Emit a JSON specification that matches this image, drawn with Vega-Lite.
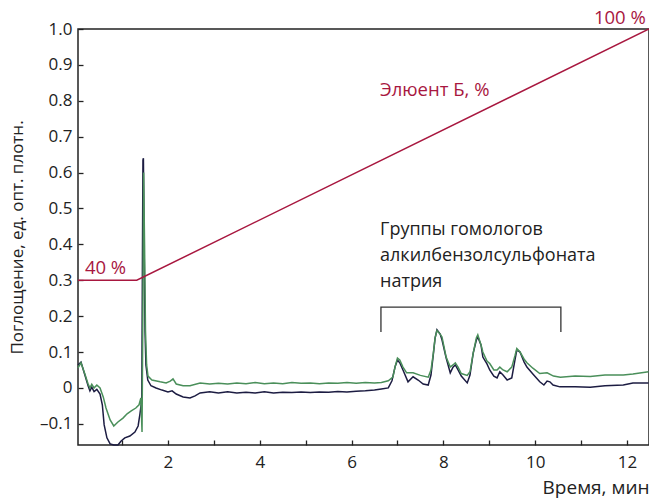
{
  "$schema": "https://vega.github.io/schema/vega-lite/v6.json",
  "width": 571,
  "height": 416,
  "autosize": {"type": "none"},
  "padding": {"left": 78, "top": 29, "right": 0, "bottom": 54},
  "background": "white",
  "config": {
    "view": {"stroke": "#222", "strokeWidth": 1.5},
    "font": "Open Sans"
  },
  "datasets": {
    "xgrid": [{"t": 1}, {"t": 2}, {"t": 3}, {"t": 4}, {"t": 5}, {"t": 6}, {"t": 7}, {"t": 8}, {"t": 9}, {"t": 10}, {"t": 11}, {"t": 12}],
    "ygrid": [{"a": -0.1}, {"a": 0}, {"a": 0.1}, {"a": 0.2}, {"a": 0.3}, {"a": 0.4}, {"a": 0.5}, {"a": 0.6}, {"a": 0.7}, {"a": 0.8}, {"a": 0.9}],
    "traces": [
      {"t": 0.04, "a": 0.064, "s": "dark"}, {"t": 0.105, "a": 0.072, "s": "dark"}, {"t": 0.19, "a": 0.036, "s": "dark"}, {"t": 0.26, "a": 0.006, "s": "dark"}, {"t": 0.3, "a": -0.008, "s": "dark"}, {"t": 0.34, "a": 0.002, "s": "dark"}, {"t": 0.39, "a": -0.01, "s": "dark"}, {"t": 0.45, "a": -0.004, "s": "dark"}, {"t": 0.52, "a": -0.017, "s": "dark"}, {"t": 0.57, "a": -0.047, "s": "dark"}, {"t": 0.61, "a": -0.103, "s": "dark"}, {"t": 0.67, "a": -0.139, "s": "dark"}, {"t": 0.74, "a": -0.156, "s": "dark"}, {"t": 0.82, "a": -0.159, "s": "dark"}, {"t": 0.91, "a": -0.159, "s": "dark"}, {"t": 0.98, "a": -0.148, "s": "dark"}, {"t": 1.06, "a": -0.139, "s": "dark"}, {"t": 1.17, "a": -0.134, "s": "dark"}, {"t": 1.28, "a": -0.123, "s": "dark"}, {"t": 1.35, "a": -0.106, "s": "dark"}, {"t": 1.39, "a": -0.072, "s": "dark"}, {"t": 1.43, "a": -0.033, "s": "dark"}, {"t": 1.445, "a": 0.384, "s": "dark"}, {"t": 1.455, "a": 0.635, "s": "dark"}, {"t": 1.465, "a": 0.64, "s": "dark"}, {"t": 1.48, "a": 0.41, "s": "dark"}, {"t": 1.5, "a": 0.16, "s": "dark"}, {"t": 1.52, "a": 0.064, "s": "dark"}, {"t": 1.56, "a": 0.022, "s": "dark"}, {"t": 1.63, "a": 0.006, "s": "dark"}, {"t": 1.74, "a": 0.0, "s": "dark"}, {"t": 1.87, "a": -0.006, "s": "dark"}, {"t": 2.0, "a": -0.011, "s": "dark"}, {"t": 2.09, "a": -0.008, "s": "dark"}, {"t": 2.18, "a": -0.017, "s": "dark"}, {"t": 2.33, "a": -0.025, "s": "dark"}, {"t": 2.48, "a": -0.028, "s": "dark"}, {"t": 2.59, "a": -0.022, "s": "dark"}, {"t": 2.7, "a": -0.014, "s": "dark"}, {"t": 2.91, "a": -0.011, "s": "dark"}, {"t": 3.1, "a": -0.014, "s": "dark"}, {"t": 3.3, "a": -0.011, "s": "dark"}, {"t": 3.5, "a": -0.014, "s": "dark"}, {"t": 3.7, "a": -0.012, "s": "dark"}, {"t": 3.9, "a": -0.014, "s": "dark"}, {"t": 4.1, "a": -0.011, "s": "dark"}, {"t": 4.3, "a": -0.014, "s": "dark"}, {"t": 4.5, "a": -0.012, "s": "dark"}, {"t": 4.7, "a": -0.013, "s": "dark"}, {"t": 4.9, "a": -0.011, "s": "dark"}, {"t": 5.1, "a": -0.013, "s": "dark"}, {"t": 5.3, "a": -0.011, "s": "dark"}, {"t": 5.5, "a": -0.012, "s": "dark"}, {"t": 5.7, "a": -0.01, "s": "dark"}, {"t": 5.9, "a": -0.011, "s": "dark"}, {"t": 6.1, "a": -0.009, "s": "dark"}, {"t": 6.3, "a": -0.008, "s": "dark"}, {"t": 6.5, "a": -0.006, "s": "dark"}, {"t": 6.65, "a": -0.003, "s": "dark"}, {"t": 6.8, "a": 0.0, "s": "dark"}, {"t": 6.88, "a": 0.02, "s": "dark"}, {"t": 6.95, "a": 0.06, "s": "dark"}, {"t": 7.0, "a": 0.078, "s": "dark"}, {"t": 7.05, "a": 0.07, "s": "dark"}, {"t": 7.12, "a": 0.05, "s": "dark"}, {"t": 7.23, "a": 0.017, "s": "dark"}, {"t": 7.34, "a": 0.031, "s": "dark"}, {"t": 7.45, "a": 0.022, "s": "dark"}, {"t": 7.56, "a": 0.011, "s": "dark"}, {"t": 7.67, "a": 0.008, "s": "dark"}, {"t": 7.73, "a": 0.036, "s": "dark"}, {"t": 7.78, "a": 0.092, "s": "dark"}, {"t": 7.82, "a": 0.139, "s": "dark"}, {"t": 7.86, "a": 0.162, "s": "dark"}, {"t": 7.93, "a": 0.15, "s": "dark"}, {"t": 7.97, "a": 0.134, "s": "dark"}, {"t": 8.06, "a": 0.084, "s": "dark"}, {"t": 8.15, "a": 0.042, "s": "dark"}, {"t": 8.21, "a": 0.058, "s": "dark"}, {"t": 8.26, "a": 0.064, "s": "dark"}, {"t": 8.32, "a": 0.05, "s": "dark"}, {"t": 8.39, "a": 0.033, "s": "dark"}, {"t": 8.52, "a": 0.014, "s": "dark"}, {"t": 8.58, "a": 0.036, "s": "dark"}, {"t": 8.65, "a": 0.097, "s": "dark"}, {"t": 8.72, "a": 0.134, "s": "dark"}, {"t": 8.75, "a": 0.142, "s": "dark"}, {"t": 8.82, "a": 0.12, "s": "dark"}, {"t": 8.86, "a": 0.086, "s": "dark"}, {"t": 8.95, "a": 0.067, "s": "dark"}, {"t": 9.01, "a": 0.05, "s": "dark"}, {"t": 9.1, "a": 0.033, "s": "dark"}, {"t": 9.17, "a": 0.028, "s": "dark"}, {"t": 9.23, "a": 0.045, "s": "dark"}, {"t": 9.3, "a": 0.036, "s": "dark"}, {"t": 9.39, "a": 0.022, "s": "dark"}, {"t": 9.49, "a": 0.028, "s": "dark"}, {"t": 9.56, "a": 0.078, "s": "dark"}, {"t": 9.6, "a": 0.106, "s": "dark"}, {"t": 9.67, "a": 0.1, "s": "dark"}, {"t": 9.76, "a": 0.072, "s": "dark"}, {"t": 9.82, "a": 0.058, "s": "dark"}, {"t": 9.95, "a": 0.039, "s": "dark"}, {"t": 10.1, "a": 0.017, "s": "dark"}, {"t": 10.19, "a": 0.008, "s": "dark"}, {"t": 10.26, "a": 0.019, "s": "dark"}, {"t": 10.32, "a": 0.017, "s": "dark"}, {"t": 10.39, "a": 0.008, "s": "dark"}, {"t": 10.54, "a": 0.003, "s": "dark"}, {"t": 10.87, "a": 0.003, "s": "dark"}, {"t": 11.2, "a": 0.002, "s": "dark"}, {"t": 11.52, "a": 0.006, "s": "dark"}, {"t": 11.92, "a": 0.008, "s": "dark"}, {"t": 12.13, "a": 0.014, "s": "dark"}, {"t": 12.47, "a": 0.014, "s": "dark"},
      {"t": 0.04, "a": 0.056, "s": "green"}, {"t": 0.105, "a": 0.07, "s": "green"}, {"t": 0.19, "a": 0.039, "s": "green"}, {"t": 0.26, "a": 0.011, "s": "green"}, {"t": 0.3, "a": 0.0, "s": "green"}, {"t": 0.34, "a": 0.01, "s": "green"}, {"t": 0.39, "a": 0.0, "s": "green"}, {"t": 0.45, "a": 0.008, "s": "green"}, {"t": 0.52, "a": 0.0, "s": "green"}, {"t": 0.59, "a": -0.025, "s": "green"}, {"t": 0.65, "a": -0.056, "s": "green"}, {"t": 0.74, "a": -0.089, "s": "green"}, {"t": 0.82, "a": -0.106, "s": "green"}, {"t": 0.91, "a": -0.095, "s": "green"}, {"t": 1.02, "a": -0.084, "s": "green"}, {"t": 1.11, "a": -0.072, "s": "green"}, {"t": 1.2, "a": -0.064, "s": "green"}, {"t": 1.3, "a": -0.056, "s": "green"}, {"t": 1.37, "a": -0.047, "s": "green"}, {"t": 1.41, "a": -0.028, "s": "green"}, {"t": 1.435, "a": -0.123, "s": "green"}, {"t": 1.455, "a": 0.245, "s": "green"}, {"t": 1.47, "a": 0.6, "s": "green"}, {"t": 1.49, "a": 0.4, "s": "green"}, {"t": 1.51, "a": 0.16, "s": "green"}, {"t": 1.535, "a": 0.064, "s": "green"}, {"t": 1.565, "a": 0.033, "s": "green"}, {"t": 1.65, "a": 0.022, "s": "green"}, {"t": 1.83, "a": 0.017, "s": "green"}, {"t": 1.96, "a": 0.014, "s": "green"}, {"t": 2.05, "a": 0.019, "s": "green"}, {"t": 2.11, "a": 0.025, "s": "green"}, {"t": 2.18, "a": 0.011, "s": "green"}, {"t": 2.33, "a": 0.006, "s": "green"}, {"t": 2.48, "a": 0.006, "s": "green"}, {"t": 2.7, "a": 0.014, "s": "green"}, {"t": 2.91, "a": 0.011, "s": "green"}, {"t": 3.1, "a": 0.013, "s": "green"}, {"t": 3.3, "a": 0.011, "s": "green"}, {"t": 3.5, "a": 0.014, "s": "green"}, {"t": 3.7, "a": 0.012, "s": "green"}, {"t": 3.9, "a": 0.015, "s": "green"}, {"t": 4.1, "a": 0.012, "s": "green"}, {"t": 4.3, "a": 0.014, "s": "green"}, {"t": 4.5, "a": 0.012, "s": "green"}, {"t": 4.7, "a": 0.015, "s": "green"}, {"t": 4.9, "a": 0.013, "s": "green"}, {"t": 5.1, "a": 0.014, "s": "green"}, {"t": 5.3, "a": 0.012, "s": "green"}, {"t": 5.5, "a": 0.014, "s": "green"}, {"t": 5.7, "a": 0.013, "s": "green"}, {"t": 5.9, "a": 0.015, "s": "green"}, {"t": 6.1, "a": 0.013, "s": "green"}, {"t": 6.3, "a": 0.015, "s": "green"}, {"t": 6.5, "a": 0.014, "s": "green"}, {"t": 6.65, "a": 0.015, "s": "green"}, {"t": 6.8, "a": 0.02, "s": "green"}, {"t": 6.9, "a": 0.03, "s": "green"}, {"t": 6.95, "a": 0.06, "s": "green"}, {"t": 7.0, "a": 0.083, "s": "green"}, {"t": 7.05, "a": 0.078, "s": "green"}, {"t": 7.12, "a": 0.058, "s": "green"}, {"t": 7.2, "a": 0.042, "s": "green"}, {"t": 7.34, "a": 0.042, "s": "green"}, {"t": 7.5, "a": 0.035, "s": "green"}, {"t": 7.67, "a": 0.03, "s": "green"}, {"t": 7.73, "a": 0.05, "s": "green"}, {"t": 7.78, "a": 0.095, "s": "green"}, {"t": 7.82, "a": 0.14, "s": "green"}, {"t": 7.86, "a": 0.16, "s": "green"}, {"t": 7.93, "a": 0.15, "s": "green"}, {"t": 7.97, "a": 0.142, "s": "green"}, {"t": 8.06, "a": 0.086, "s": "green"}, {"t": 8.15, "a": 0.058, "s": "green"}, {"t": 8.21, "a": 0.064, "s": "green"}, {"t": 8.26, "a": 0.07, "s": "green"}, {"t": 8.32, "a": 0.058, "s": "green"}, {"t": 8.39, "a": 0.04, "s": "green"}, {"t": 8.52, "a": 0.035, "s": "green"}, {"t": 8.58, "a": 0.045, "s": "green"}, {"t": 8.65, "a": 0.097, "s": "green"}, {"t": 8.72, "a": 0.14, "s": "green"}, {"t": 8.75, "a": 0.148, "s": "green"}, {"t": 8.82, "a": 0.12, "s": "green"}, {"t": 8.86, "a": 0.1, "s": "green"}, {"t": 8.95, "a": 0.075, "s": "green"}, {"t": 9.01, "a": 0.068, "s": "green"}, {"t": 9.1, "a": 0.05, "s": "green"}, {"t": 9.17, "a": 0.05, "s": "green"}, {"t": 9.23, "a": 0.058, "s": "green"}, {"t": 9.3, "a": 0.05, "s": "green"}, {"t": 9.39, "a": 0.045, "s": "green"}, {"t": 9.49, "a": 0.058, "s": "green"}, {"t": 9.56, "a": 0.09, "s": "green"}, {"t": 9.6, "a": 0.11, "s": "green"}, {"t": 9.67, "a": 0.1, "s": "green"}, {"t": 9.76, "a": 0.08, "s": "green"}, {"t": 9.82, "a": 0.07, "s": "green"}, {"t": 9.95, "a": 0.055, "s": "green"}, {"t": 10.1, "a": 0.04, "s": "green"}, {"t": 10.26, "a": 0.042, "s": "green"}, {"t": 10.4, "a": 0.033, "s": "green"}, {"t": 10.55, "a": 0.03, "s": "green"}, {"t": 10.87, "a": 0.033, "s": "green"}, {"t": 11.2, "a": 0.032, "s": "green"}, {"t": 11.52, "a": 0.036, "s": "green"}, {"t": 11.92, "a": 0.036, "s": "green"}, {"t": 12.13, "a": 0.039, "s": "green"}, {"t": 12.47, "a": 0.045, "s": "green"}
    ],
    "eluent": [
      {"t": 0.04, "a": 0.3}, {"t": 1.32, "a": 0.3}, {"t": 12.48, "a": 1.0}
    ],
    "bracket": [
      {"t": 6.64, "a": 0.156, "o": 1}, {"t": 6.64, "a": 0.225, "o": 2}, {"t": 10.56, "a": 0.225, "o": 3}, {"t": 10.56, "a": 0.156, "o": 4}
    ],
    "redleft": [
      {"t": 0.19, "a": 0.334, "label": "40 %"},
      {"t": 6.62, "a": 0.83, "label": "Элюент Б, %"}
    ],
    "redright": [
      {"t": 12.41, "a": 1.03, "label": "100 %"}
    ],
    "blacklabels": [
      {"t": 6.62, "a": 0.44, "label": "Группы гомологов"},
      {"t": 6.62, "a": 0.368, "label": "алкилбензолсульфоната"},
      {"t": 6.62, "a": 0.295, "label": "натрия"}
    ]
  },
  "encoding": {
    "x": {
      "field": "t", "type": "quantitative",
      "scale": {"domain": [0.04, 12.48], "nice": false, "zero": false},
      "axis": {
        "title": "Время, мин", "titleAnchor": "end", "titleAlign": "right", "titlePadding": 8,
        "titleFont": "Open Sans", "titleFontSize": 19, "titleFontWeight": "normal", "titleColor": "#222",
        "values": [1, 2, 3, 4, 5, 6, 7, 8, 9, 10, 11, 12],
        "labelExpr": "datum.value % 2 == 0 ? datum.label : ''",
        "labelFont": "Open Sans", "labelFontSize": 17, "labelColor": "#222",
        "labelOverlap": false, "labelFlush": false, "domain": false,
        "tickSize": -5, "tickColor": "#222", "tickWidth": 1.3, "labelPadding": 14,
        "grid": false
      }
    },
    "y": {
      "field": "a", "type": "quantitative",
      "scale": {"domain": [-0.159, 1.0], "nice": false, "zero": false},
      "axis": {
        "title": "Поглощение, ед. опт. плотн.",
        "titleFont": "Open Sans", "titleFontSize": 17, "titleFontWeight": "normal", "titleColor": "#222", "titlePadding": 13,
        "values": [-0.1, 0, 0.1, 0.2, 0.3, 0.4, 0.5, 0.6, 0.7, 0.8, 0.9, 1.0],
        "labelExpr": "datum.value == 0 ? '0' : (datum.value < 0 ? '–' + format(-datum.value, '.1f') : format(datum.value, '.1f'))",
        "labelFont": "Open Sans", "labelFontSize": 17, "labelColor": "#222",
        "labelOverlap": false, "labelFlush": false, "domain": false,
        "tickSize": -5, "tickColor": "#222", "tickWidth": 1.3, "labelPadding": 11,
        "grid": false
      }
    }
  },
  "layer": [
    {
      "data": {"name": "xgrid"},
      "mark": {"type": "rule", "stroke": "#9a9a9a", "strokeWidth": 1.2, "strokeDash": [1.5, 2], "opacity": 1},
      "encoding": {
        "y": {"datum": -0.159},
        "y2": {"datum": 1.0}
      }
    },
    {
      "data": {"name": "ygrid"},
      "mark": {"type": "rule", "stroke": "#9a9a9a", "strokeWidth": 1.2, "strokeDash": [1.5, 2], "opacity": 1},
      "encoding": {
        "x": {"datum": 0.04},
        "x2": {"datum": 12.48}
      }
    },
    {
      "data": {"name": "traces"},
      "mark": {"type": "line", "strokeWidth": 1.5},
      "encoding": {
        "color": {
          "field": "s", "type": "nominal",
          "scale": {"domain": ["dark", "green"], "range": ["#1c1c42", "#4a8f5a"]},
          "legend": null
        }
      }
    },
    {
      "data": {"name": "eluent"},
      "mark": {"type": "line", "color": "#a8173f", "strokeWidth": 1.5},
      "encoding": {}
    },
    {
      "data": {"name": "bracket"},
      "mark": {"type": "line", "color": "#333", "strokeWidth": 1.3},
      "encoding": {"order": {"field": "o"}}
    },
    {
      "data": {"name": "redleft"},
      "mark": {"type": "text", "color": "#a8173f", "fontSize": 18.5, "font": "Open Sans", "baseline": "middle", "align": "left"},
      "encoding": {"text": {"field": "label"}}
    },
    {
      "data": {"name": "redright"},
      "mark": {"type": "text", "color": "#a8173f", "fontSize": 18.5, "font": "Open Sans", "baseline": "middle", "align": "right"},
      "encoding": {"text": {"field": "label"}}
    },
    {
      "data": {"name": "blacklabels"},
      "mark": {"type": "text", "color": "#222", "fontSize": 18, "font": "Open Sans", "baseline": "middle", "align": "left"},
      "encoding": {"text": {"field": "label"}}
    }
  ]
}
